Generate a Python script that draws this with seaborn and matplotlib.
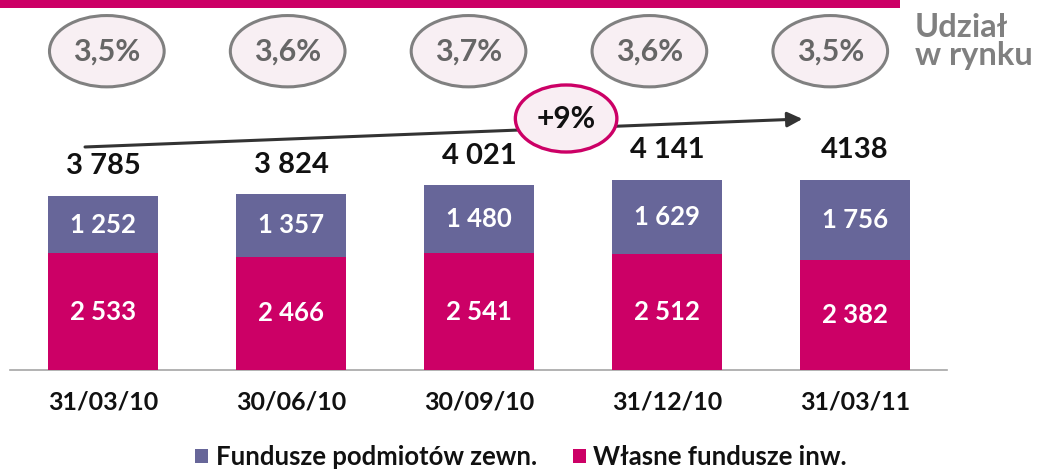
import matplotlib
matplotlib.use("Agg")
import matplotlib.pyplot as plt
import seaborn as sns
import pandas as pd
from matplotlib.patches import Ellipse, Rectangle, Patch

# ---------------- data ----------------
dates = ["31/03/10", "30/06/10", "30/09/10", "31/12/10", "31/03/11"]
own_funds = [2533, 2466, 2541, 2512, 2382]          # Własne fundusze inw.
external_funds = [1252, 1357, 1480, 1629, 1756]     # Fundusze podmiotów zewn.
total_labels = ["3 785", "3 824", "4 021", "4 141", "4138"]
own_labels = ["2 533", "2 466", "2 541", "2 512", "2 382"]
external_labels = ["1 252", "1 357", "1 480", "1 629", "1 756"]
market_share = ["3,5%", "3,6%", "3,7%", "3,6%", "3,5%"]
growth_label = "+9%"
series_names = ["Fundusze podmiotów zewn.", "Własne fundusze inw."]
share_title = ["Udział", "w rynku"]

PURPLE = "#676699"
MAGENTA = "#cc0066"
GREY_TXT = "#666666"

totals = [o + e for o, e in zip(own_funds, external_funds)]
df = pd.DataFrame({"date": dates, "own": own_funds, "total": totals})

sns.set_style("white")
plt.rcParams["font.family"] = ["Lato", "DejaVu Sans"]

W, H = 1037, 470
fig = plt.figure(figsize=(W / 100, H / 100), dpi=100)
ax = fig.add_axes([10 / W, 100 / H, 937 / W, 370 / H])

bw = 110 / 188
sns.barplot(data=df, x="date", y="total", color=PURPLE, saturation=1,
            width=bw, ax=ax, linewidth=0, zorder=2)
sns.barplot(data=df, x="date", y="own", color=MAGENTA, saturation=1,
            width=bw, ax=ax, linewidth=0, zorder=3)

ax.set_xlim(-0.495, 4.489)
ax.set_ylim(0, 8043)
ax.set_xlabel("")
ax.set_ylabel("")
ax.set_yticks([])
for s in ["top", "left", "right"]:
    ax.spines[s].set_visible(False)
ax.spines["bottom"].set_color("#a6a6a6")
ax.spines["bottom"].set_linewidth(1.2)
ax.tick_params(axis="x", length=0, pad=15, labelsize=18)
for t in ax.get_xticklabels():
    t.set_fontweight("bold")
    t.set_color("#111111")

# value labels
for i in range(len(dates)):
    ax.text(i, own_funds[i] / 2, own_labels[i], ha="center", va="center",
            color="white", fontsize=18.5, fontweight="bold", zorder=5)
    ax.text(i, own_funds[i] + external_funds[i] / 2, external_labels[i],
            ha="center", va="center", color="white", fontsize=18.5,
            fontweight="bold", zorder=5)
    ax.text(i, totals[i] + 640, total_labels[i], ha="center", va="center",
            color="#111111", fontsize=21, fontweight="bold", zorder=5)

# market share ellipses
for i, lab in enumerate(market_share):
    cx = 0.02 + 0.962 * i
    e = Ellipse((cx, 6930), width=0.61, height=1550, facecolor="#f8eff3",
                edgecolor="#808080", linewidth=2.2, clip_on=False, zorder=4)
    ax.add_patch(e)
    ax.text(cx, 6930, lab, ha="center", va="center", color=GREY_TXT,
            fontsize=22, fontweight="bold", zorder=5, clip_on=False)

for k, line in enumerate(share_title):
    fig.text(915 / W, 1 - (37 + 28 * k) / H, line, ha="left", va="baseline",
             color="#808080", fontsize=23.5, fontweight="bold")

# growth arrow
ax.annotate("", xy=(3.72, 5457), xytext=(-0.096, 4848),
            arrowprops=dict(arrowstyle="-|>,head_length=0.9,head_width=0.45",
                            color="#333333", lw=2.2, shrinkA=0, shrinkB=0),
            annotation_clip=False, zorder=3)
ge = Ellipse((2.463, 5467), width=0.54, height=1457, facecolor="#f9eef3",
             edgecolor=MAGENTA, linewidth=2.4, clip_on=False, zorder=6)
ax.add_patch(ge)
ax.text(2.463, 5467, growth_label, ha="center", va="center", color="#111111",
        fontsize=21.5, fontweight="bold", zorder=7)

# top magenta band
fig.patches.append(Rectangle((0, 1 - 7.5 / H), 900 / W, 7.5 / H,
                             transform=fig.transFigure, facecolor=MAGENTA,
                             edgecolor="none", zorder=10))

# legend
handles = [Patch(facecolor=PURPLE, edgecolor="none"),
           Patch(facecolor=MAGENTA, edgecolor="none")]
leg = fig.legend(handles, series_names, loc="center", ncol=2,
                 bbox_to_anchor=(521 / W, 1 - 457 / H), frameon=False,
                 handlelength=0.5, handleheight=0.5,
                 handletextpad=0.3, columnspacing=1.4,
                 prop={"weight": "bold", "size": 18.5})
for t in leg.get_texts():
    t.set_color("#111111")

fig.savefig("out.png", dpi=100)
